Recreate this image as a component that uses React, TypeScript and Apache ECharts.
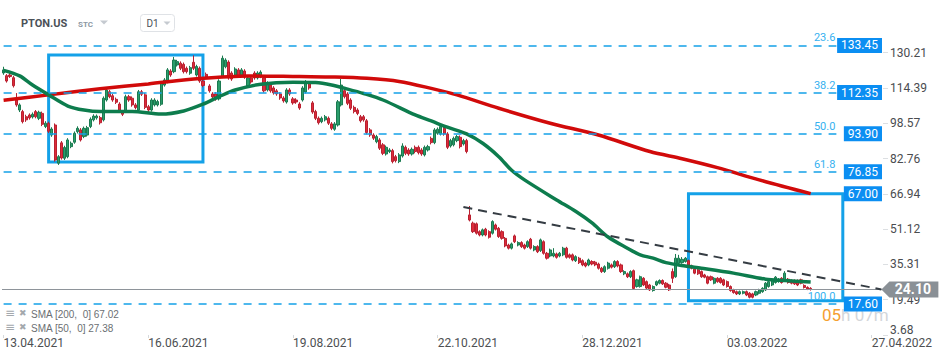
import React, { useEffect, useRef } from "react";
import * as echarts from "echarts";

// ---- data ----
// daily candles, one row per trading day from 13.04.2021: [open, close, low, high]
const candles: number[][] = [
  [121.1,122.5,120.3,123.9],[119.9,117.5,116.8,120.6],[120.2,119.5,118.9,121.0],[119.0,115.4,114.6,119.8],[109.0,106.8,106.0,112.1],
  [104.5,106.8,103.6,107.5],[103.8,99.3,98.5,104.6],[101.5,100.1,99.2,102.4],[102.3,101.0,100.2,103.0],[101.4,102.6,100.7,103.4],
  [103.8,101.5,100.8,104.5],[100.8,103.5,100.0,104.2],[103.0,98.1,97.3,103.8],[97.1,98.6,96.4,99.5],[98.6,95.0,94.2,99.3],
  [93.3,96.0,92.5,96.8],[97.8,82.1,81.4,98.5],[80.7,83.6,79.9,84.3],[89.8,83.0,82.3,90.6],[82.9,87.7,82.1,88.5],
  [83.6,91.1,82.9,91.9],[88.1,89.6,87.4,90.4],[90.1,94.1,89.4,94.9],[94.8,96.3,94.0,97.2],[95.6,91.1,90.4,96.4],
  [92.6,96.3,91.9,97.1],[93.3,96.6,92.6,97.4],[97.1,100.4,96.4,101.2],[100.1,101.8,99.4,102.6],[101.0,101.8,100.2,102.5],
  [101.1,98.8,98.0,101.9],[100.1,109.8,99.4,110.6],[109.0,113.5,108.3,114.4],[112.7,110.5,109.8,113.5],[110.9,109.0,108.2,111.7],
  [109.3,108.0,107.2,110.1],[107.2,104.2,103.4,108.0],[103.5,102.6,101.8,104.3],[104.2,110.5,103.5,111.4],[110.5,109.0,108.2,111.3],
  [109.8,106.8,106.0,110.6],[106.8,105.6,104.8,107.6],[104.5,112.7,103.8,113.5],[112.7,111.6,110.8,113.5],[111.3,105.7,104.9,112.1],
  [106.0,104.5,103.7,106.8],[104.5,109.0,103.8,109.8],[106.8,109.0,106.1,109.8],[106.8,108.3,106.1,109.1],[107.1,116.5,106.4,117.3],
  [115.7,118.0,115.0,118.8],[117.2,122.5,116.5,123.3],[122.0,120.2,119.4,122.8],[121.7,126.9,121.0,128.3],[124.7,126.2,124.0,127.0],
  [125.5,123.2,122.4,126.3],[125.0,121.7,120.9,125.8],[123.2,121.7,120.9,124.0],[121.0,123.5,120.3,124.3],[125.9,123.2,122.4,129.0],
  [120.2,124.0,119.5,124.8],[123.2,117.5,116.7,124.0],[117.5,115.5,114.7,118.3],[120.5,119.3,118.5,121.3],[115.3,113.1,112.3,116.1],
  [111.7,110.4,109.6,112.5],[111.7,109.5,108.7,112.5],[109.5,117.5,108.8,118.3],[119.5,127.7,118.8,128.9],[123.9,126.9,123.2,127.7],
  [126.0,118.9,118.1,126.8],[121.1,118.4,117.6,121.9],[120.2,122.9,119.5,123.7],[122.5,120.2,119.4,123.3],[120.2,122.5,119.5,123.3],
  [122.0,119.3,118.5,122.8],[115.3,118.9,114.6,119.7],[118.9,117.1,116.3,119.7],[121.1,118.9,118.1,121.9],[118.9,121.1,118.2,121.9],
  [119.5,121.5,118.8,122.3],[118.9,113.1,112.3,119.7],[113.5,116.6,112.8,117.4],[115.7,113.1,112.3,116.5],[114.4,112.2,111.4,115.2],
  [113.1,111.7,110.9,113.9],[111.7,109.9,109.1,112.5],[109.9,108.6,107.8,110.7],[108.1,113.5,107.4,114.3],[113.5,111.7,110.9,114.3],
  [109.5,107.7,106.9,110.3],[109.0,108.1,107.3,109.8],[107.2,105.4,104.6,108.0],[109.0,114.4,108.3,115.2],[112.6,117.1,111.9,117.9],
  [116.6,114.4,113.6,117.4],[107.7,103.6,102.8,108.5],[103.8,100.8,100.0,104.6],[100.8,98.8,98.0,101.6],[99.3,100.8,98.6,101.6],
  [100.1,101.5,99.4,102.3],[100.8,98.6,97.8,101.6],[98.3,96.3,95.5,99.1],[95.9,98.3,95.2,99.1],[97.8,108.2,97.1,109.0],
  [106.8,115.7,106.1,118.4],[113.2,110.5,109.7,114.0],[111.7,107.5,106.7,112.5],[109.0,105.3,104.5,109.8],[105.7,103.8,103.0,106.5],
  [104.5,103.0,102.2,105.3],[101.5,99.7,98.9,102.3],[101.5,100.1,99.3,102.3],[99.7,94.4,93.6,100.5],[95.6,93.3,92.5,96.4],
  [93.3,91.9,91.1,94.1],[90.3,92.6,89.6,93.4],[91.1,87.4,86.6,91.9],[88.9,85.1,84.3,89.7],[84.8,87.8,84.1,88.6],
  [85.9,86.6,85.2,87.4],[86.3,81.4,80.6,87.1],[83.6,81.8,81.0,84.4],[81.4,84.4,80.7,85.2],[83.9,88.4,83.2,89.6],
  [87.8,85.1,84.3,88.6],[86.6,84.8,84.0,87.4],[84.8,86.9,84.1,87.7],[87.8,85.9,85.1,88.6],[87.8,85.4,84.6,88.6],
  [86.6,84.8,84.0,87.4],[84.4,87.8,83.7,88.6],[86.6,88.1,85.9,88.9],[91.8,89.9,89.1,92.6],[89.9,95.6,89.2,96.4],
  [94.1,95.9,93.4,96.7],[93.8,97.1,93.1,98.5],[96.3,93.8,93.0,97.1],[93.8,87.8,87.0,94.6],[88.4,90.8,87.7,91.6],
  [88.9,91.8,88.2,92.6],[90.8,92.6,90.1,93.4],[92.3,88.1,87.3,93.1],[89.3,90.8,88.6,91.6],[90.8,85.9,85.1,91.6],
  [57.5,55.2,54.6,61.5],[53.8,50.0,49.4,54.5],[53.5,49.3,48.7,54.1],[50.0,48.5,47.9,50.6],[48.5,50.8,47.9,51.4],
  [51.1,48.5,47.9,51.7],[50.0,47.5,46.9,50.6],[49.3,54.5,48.7,55.1],[53.0,51.1,50.5,53.6],[51.5,47.8,47.2,52.1],
  [50.0,47.0,46.4,50.6],[47.0,43.6,43.0,47.6],[44.0,42.6,42.0,44.6],[42.6,44.5,42.0,45.1],[48.1,45.5,44.9,48.7],
  [44.0,45.1,43.4,45.7],[45.1,43.3,42.7,45.7],[44.0,42.6,42.0,44.6],[43.3,45.5,42.7,46.1],[46.6,42.6,42.0,47.2],
  [41.8,43.3,41.2,43.9],[43.3,41.0,40.4,43.9],[41.5,46.3,40.9,46.9],[45.5,40.3,39.7,46.1],[40.3,38.1,37.5,40.9],
  [39.1,41.8,38.5,42.4],[39.1,40.3,38.5,42.6],[40.0,38.5,37.9,40.6],[39.1,40.3,38.5,40.9],[39.6,42.6,39.0,43.2],
  [42.6,38.5,37.9,43.2],[39.6,38.5,37.9,40.2],[39.6,37.3,36.7,40.2],[37.0,38.8,36.4,39.4],[38.1,36.1,35.5,38.7],
  [37.0,35.1,34.5,37.6],[35.9,34.6,34.0,36.5],[35.1,37.3,34.5,37.9],[36.6,35.5,34.9,37.2],[36.3,35.1,34.5,36.9],
  [35.5,33.6,33.0,36.1],[33.6,32.1,31.5,34.2],[32.1,34.3,31.5,34.9],[33.6,35.9,33.0,36.5],[35.1,34.1,33.5,35.7],
  [34.3,36.6,33.7,37.2],[36.6,34.6,34.0,37.2],[35.1,32.1,31.5,35.7],[31.1,32.1,30.5,32.7],[31.1,29.8,29.2,31.7],
  [29.8,32.1,29.2,32.7],[32.5,24.5,24.0,33.0],[25.4,28.4,24.9,28.9],[25.4,29.8,24.9,30.3],[29.1,26.1,25.6,29.6],
  [27.6,24.7,24.2,28.1],[26.1,23.9,23.4,26.6],[23.6,25.4,23.1,25.9],[26.1,27.6,25.6,28.1],[26.9,28.1,26.4,28.6],
  [28.1,26.6,26.1,28.6],[26.9,25.1,24.6,27.4],[26.1,23.9,23.4,26.6],[32.1,29.1,27.0,33.5],[29.8,38.1,29.3,40.0],
  [35.8,38.1,35.3,39.6],[36.1,37.6,35.6,38.6],[36.6,38.1,36.1,38.6],[37.0,35.1,34.6,37.5],[34.7,33.6,33.1,35.2],
  [33.2,31.4,30.9,33.7],[32.9,31.1,30.6,33.4],[32.1,29.8,29.3,32.6],[30.6,29.6,29.1,31.1],[29.8,26.9,26.4,30.3],
  [29.8,28.4,27.9,30.3],[26.9,29.1,26.4,29.6],[29.1,27.6,27.1,29.6],[29.1,27.2,26.7,29.6],[28.4,26.1,25.6,28.9],
  [27.6,25.4,24.9,28.1],[25.4,23.6,23.1,25.9],[23.9,22.7,22.2,24.4],[23.1,22.1,21.6,23.6],[22.1,23.1,21.6,23.6],
  [22.4,23.1,21.9,23.6],[23.1,21.6,21.1,23.6],[22.4,20.6,20.1,22.9],[22.1,20.6,20.1,22.6],[21.6,23.1,21.1,23.6],
  [22.4,23.9,21.9,24.4],[23.1,24.6,22.6,25.1],[23.9,26.9,23.4,27.4],[25.4,27.6,24.9,28.1],[26.1,28.4,25.6,28.9],
  [27.2,29.6,26.7,30.1],[27.6,28.7,27.1,29.2],[29.1,27.2,26.7,29.6],[28.4,31.4,27.9,32.3],[28.7,27.2,26.7,29.2],
  [28.1,26.9,26.4,28.6],[28.1,26.6,26.1,28.6],[28.1,26.1,25.6,28.6],[28.4,26.9,26.4,28.9],[25.9,25.0,24.5,26.4],
  [25.0,24.3,23.8,25.5],[24.6,24.1,23.6,25.1],
];

// moving averages read at sample points: [category index, value]
const sma200Points: number[][] = [
  [0,108.9],[14,111.3],[30,114.0],[45,116.2],[61,118.6],[76,119.8],[92,119.5],[103,119.3],[113,118.7],
  [123,117.3],[133,114.2],[141,111.3],[154,105.3],[170,98.6],[185,93.3],[201,85.9],[211,82.7],[222,78.7],
  [235,73.2],[251,67.02],
];
const sma50Points: number[][] = [
  [0,122.3],[5,119.8],[9,115.7],[14,111.3],[20,106.3],[25,104.5],[30,103.8],[40,103.8],[49,102.7],[56,104.1],
  [62,107.1],[67,110.5],[72,113.5],[80,116.1],[90,117.0],[97,116.8],[102,115.7],[107,113.9],[112,111.9],[118,109.0],
  [128,102.3],[133,99.6],[138,96.8],[144,93.8],[149,89.6],[154,83.6],[158,77.5],[162,73.2],[172,64.2],[178,59.0],
  [183,53.9],[188,47.6],[194,42.6],[198,39.6],[202,38.1],[206,36.1],[212,34.6],[217,33.6],[227,31.4],[237,28.7],
  [243,28.1],[251,27.38],
];

const sma200Label = "SMA [200,  0] 67.02";
const sma50Label = "SMA [50,  0] 27.38";

const yTickValues = [3.68, 19.49, 35.31, 51.12, 66.94, 82.76, 98.57, 114.39, 130.21];
const yMin = 3.68;
const yMax = 153.82;

const fibValues = [133.45, 112.35, 93.9, 76.85, 17.6];
const fibPercents = ["23.6", "38.2", "50.0", "61.8", "100.0"];
const priceTags = [133.45, 112.35, 93.9, 76.85, 67.0, 17.6];

// rectangles: [startIndex, topValue, endIndex, bottomValue]
const rectangles: number[][] = [
  [14, 129.2, 62, 81.2],
  [213, 67.0, 261, 19.0],
];
const trendLine: number[][] = [[143, 61.0], [273, 24.1]];
const lastPrice = 24.1;
const lastPriceIndex = 273;
const fibLineEndIndex = 259;

// axis dates
const startDate = [2021, 3, 13];
const marketHolidays = ["2021-05-31", "2021-07-05", "2021-09-06", "2021-11-25", "2021-12-24", "2022-01-17", "2022-02-21"];
const totalSlots = 274;
const labelEvery = 45;

function pad(n: number) {
  return n < 10 ? "0" + n : String(n);
}

function buildCategories(): string[] {
  const out: string[] = [];
  const d = new Date(Date.UTC(startDate[0], startDate[1], startDate[2]));
  let guard = 0;
  while (out.length < totalSlots && guard < 2000) {
    guard++;
    const iso = d.toISOString().slice(0, 10);
    const dow = d.getUTCDay();
    const history = out.length < candles.length;
    if (!history || (dow !== 0 && dow !== 6 && marketHolidays.indexOf(iso) < 0)) {
      out.push(pad(d.getUTCDate()) + "." + pad(d.getUTCMonth() + 1) + "." + d.getUTCFullYear());
    }
    d.setUTCDate(d.getUTCDate() + 1);
  }
  return out;
}

const FONT = 'Roboto, "Noto Sans", sans-serif';
const BLUE = "#14a1e8";
const TAG_BLUE = "#0b8ef2";

export default function App() {
  const ref = useRef<HTMLDivElement>(null);

  useEffect(() => {
    if (!ref.current) return;
    const chart = echarts.init(ref.current, undefined, { renderer: "svg" });
    const categories = buildCategories();
    const showEvery = (i: number) => i % labelEvery === 0;

    const option: any = {
      animation: false,
      backgroundColor: "#ffffff",
      textStyle: { fontFamily: FONT },
      grid: { left: 2, right: 67, top: 0, bottom: 25, containLabel: false, outerBoundsMode: "none" },
      xAxis: {
        type: "category",
        data: categories,
        boundaryGap: true,
        axisLine: { show: false },
        axisTick: { show: true, alignWithLabel: true, length: 3, interval: showEvery, lineStyle: { color: "#d6d9dc" } },
        axisLabel: { interval: showEvery, align: "left", color: "#4d4f52", fontSize: 12, margin: 2, fontFamily: FONT },
        splitLine: { show: false },
      },
      yAxis: {
        type: "value",
        position: "right",
        min: yMin,
        max: yMax,
        splitLine: { show: false },
        axisLine: { show: false },
        axisTick: { show: true, length: 5, customValues: yTickValues, lineStyle: { color: "#dcdfe2" } },
        axisLabel: {
          customValues: yTickValues,
          color: "#4a4c4f",
          fontSize: 12,
          margin: 7,
          fontFamily: FONT,
          formatter: (v: number) => (Math.abs(v - yMin) < 1e-6 ? "{lift|" + v.toFixed(2) + "}" : v.toFixed(2)),
          rich: { lift: { padding: [0, 0, 11, 0], color: "#4a4c4f", fontSize: 12, fontFamily: FONT } },
        },
      },
      series: [
        {
          type: "line",
          name: "levels",
          data: [],
          silent: true,
          z: 1,
          markLine: {
            silent: true,
            symbol: ["none", "none"],
            animation: false,
            data: [
              ...fibValues.map((v, k) => [
                {
                  coord: [0, v],
                  lineStyle: { color: BLUE, type: [8, 7], width: 1.5 },
                  label: {
                    show: true,
                    position: "insideEndTop",
                    formatter: fibPercents[k],
                    color: "#36b1f0",
                    fontSize: 11,
                    distance: [1, 2],
                    fontFamily: FONT,
                  },
                },
                { coord: [fibLineEndIndex, v] },
              ]),
              { yAxis: lastPrice, lineStyle: { color: "#8e949a", width: 1, type: "solid" }, label: { show: false } },
            ],
          },
        },
        {
          type: "candlestick",
          name: "PTON.US",
          data: candles,
          barWidth: 2.6,
          z: 2,
          itemStyle: {
            color: "#2a9d6b",
            color0: "#dd2c3a",
            borderColor: "#1b7a50",
            borderColor0: "#b92030",
            borderWidth: 1,
          },
        },
        {
          type: "line",
          name: "SMA 200",
          data: sma200Points,
          smooth: 0.3,
          showSymbol: false,
          silent: true,
          z: 3,
          lineStyle: { color: "#d10a0a", width: 3.5 },
        },
        {
          type: "line",
          name: "SMA 50",
          data: sma50Points,
          smooth: 0.3,
          showSymbol: false,
          silent: true,
          z: 3,
          lineStyle: { color: "#0d7c4d", width: 3.5 },
        },
        {
          type: "line",
          name: "boxes",
          data: [],
          silent: true,
          z: 4,
          markArea: {
            silent: true,
            itemStyle: { color: "rgba(0,0,0,0)", borderColor: BLUE, borderWidth: 3 },
            data: rectangles.map((r) => [{ coord: [r[0], r[1]] }, { coord: [r[2], r[3]] }]),
          },
        },
        {
          type: "line",
          name: "overlay",
          data: [],
          silent: true,
          z: 5,
          markLine: {
            silent: true,
            symbol: ["none", "none"],
            animation: false,
            data: [
              [
                { coord: trendLine[0], lineStyle: { color: "#353c43", width: 2, type: [9, 6] }, label: { show: false } },
                { coord: trendLine[1] },
              ],
              ...priceTags.map((v) => ({
                yAxis: v,
                lineStyle: { color: "rgba(255,255,255,0)", width: 1, type: "solid" },
                label: {
                  show: true,
                  position: "insideEnd",
                  distance: [1, 0],
                  formatter: v.toFixed(2),
                  color: "#ffffff",
                  backgroundColor: TAG_BLUE,
                  padding: [2, 4, 1, 4],
                  fontSize: 12,
                  fontFamily: FONT,
                  opacity: 1,
                },
              })),
            ],
          },
          markPoint: {
            silent: true,
            symbol: "path://M0,8 L8,0 L57,0 L57,16 L8,16 Z",
            symbolSize: [57, 16],
            symbolOffset: ["50%", 0],
            itemStyle: { color: "#8a9096" },
            label: {
              show: true,
              position: "inside",
              offset: [3, 0],
              formatter: lastPrice.toFixed(2),
              color: "#ffffff",
              fontSize: 14,
              fontWeight: "bold",
              fontFamily: FONT,
            },
            data: [{ coord: [lastPriceIndex, lastPrice], value: lastPrice }],
          },
        },
      ],
      graphic: [
        { type: "text", x: 21, y: 23, style: { text: "PTON.US", fontSize: 11, fontWeight: "bold", fill: "#4b5157", fontFamily: FONT, verticalAlign: "middle" } },
        { type: "text", x: 78, y: 24, style: { text: "STC", fontSize: 8, fontWeight: "bold", fill: "#8c98a4", fontFamily: FONT, verticalAlign: "middle" } },
        { type: "polygon", shape: { points: [[100, 20.5], [108, 20.5], [104, 24.5]] }, style: { fill: "#c5cad0" } },
        { type: "rect", shape: { x: 140.5, y: 14.5, width: 34, height: 17, r: 3 }, style: { fill: "#ffffff", stroke: "#dfe2e6", lineWidth: 1 } },
        { type: "text", x: 146.5, y: 23.5, style: { text: "D1", fontSize: 10, fill: "#4b5157", fontFamily: FONT, verticalAlign: "middle" } },
        { type: "polygon", shape: { points: [[163.5, 21.5], [170.5, 21.5], [167, 25]] }, style: { fill: "#c5cad0" } },
        { type: "text", x: 5, y: 313, style: { text: "≡", fontSize: 12, fill: "#a3a8ad", fontFamily: "DejaVu Sans", verticalAlign: "middle" } },
        { type: "text", x: 19, y: 313, style: { text: "✖", fontSize: 9, fill: "#a3a8ad", fontFamily: "DejaVu Sans", verticalAlign: "middle" } },
        { type: "text", x: 31, y: 314, style: { text: sma200Label, fontSize: 10, fill: "#6b6f73", fontFamily: "Liberation Sans, Arial", verticalAlign: "middle" } },
        { type: "text", x: 5, y: 327, style: { text: "≡", fontSize: 12, fill: "#a3a8ad", fontFamily: "DejaVu Sans", verticalAlign: "middle" } },
        { type: "text", x: 19, y: 327, style: { text: "✖", fontSize: 9, fill: "#a3a8ad", fontFamily: "DejaVu Sans", verticalAlign: "middle" } },
        { type: "text", x: 31, y: 328, style: { text: sma50Label, fontSize: 10, fill: "#6b6f73", fontFamily: "Liberation Sans, Arial", verticalAlign: "middle" } },
        {
          type: "text",
          x: 822,
          y: 315,
          style: {
            text: "{a|05}{b|h 07m}",
            fontSize: 17,
            fontFamily: FONT,
            verticalAlign: "middle",
            rich: {
              a: { fill: "#f5a030", fontSize: 17, fontFamily: FONT },
              b: { fill: "#d3d6da", fontSize: 17, fontFamily: FONT },
            },
          },
        },
      ],
    };

    chart.setOption(option);
    return () => {
      chart.dispose();
    };
  }, []);

  return <div ref={ref} style={{ position: "fixed", left: 0, top: 0, width: 950, height: 360 }} />;
}
